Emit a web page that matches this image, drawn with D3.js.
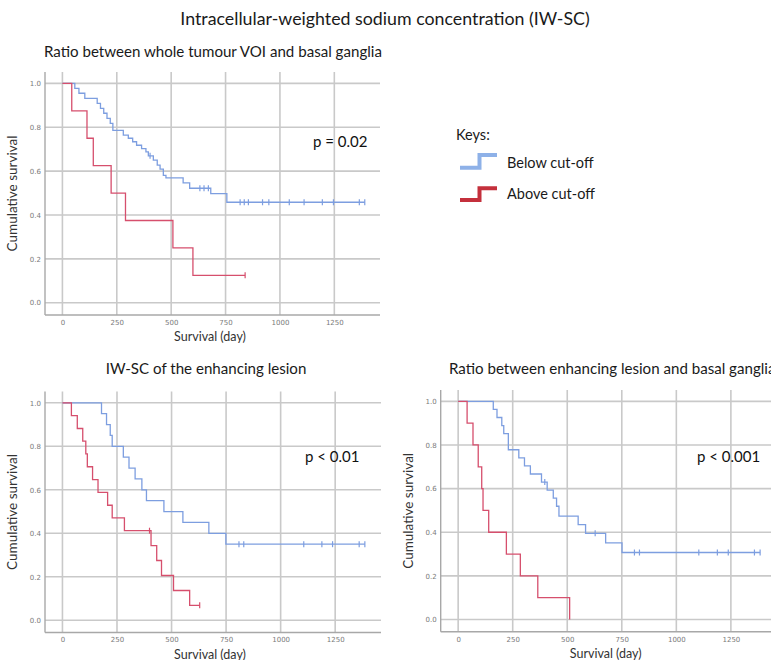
<!DOCTYPE html>
<html>
<head>
<meta charset="utf-8">
<script src="https://cdn.jsdelivr.net/npm/d3@7"></script>
<style>
  body { margin: 0; background: #fff; }
  svg { display: block; }
</style>
</head>
<body>
<svg id="chart" width="771" height="660"></svg>
<script>
// Axis ticks shared by all three Kaplan–Meier panels
const xTicks = [0, 250, 500, 750, 1000, 1250];
const yTicks = [0.0, 0.2, 0.4, 0.6, 0.8, 1.0];

// Panel A: ratio between whole tumour VOI and basal ganglia
const aBelowDays   = [57, 76, 103, 160, 175, 190, 205, 220, 232, 280, 303, 323, 341, 364, 384, 395, 418, 436, 449, 464, 476, 555, 585, 682, 756];
const aBelowSurv   = [0.977, 0.955, 0.932, 0.909, 0.886, 0.864, 0.841, 0.818, 0.786, 0.764, 0.750, 0.734, 0.718, 0.703, 0.688, 0.670, 0.650, 0.627, 0.609, 0.581, 0.569, 0.546, 0.522, 0.497, 0.458];
const aBelowCensor = [403, 632, 651, 671, 817, 836, 855, 920, 949, 1043, 1111, 1195, 1246, 1365, 1390];
const aAboveDays   = [43, 113, 142, 224, 290, 508, 600];
const aAboveSurv   = [0.875, 0.750, 0.625, 0.500, 0.375, 0.250, 0.125];
const aAboveCensor = [840];

// Panel B: IW-SC of the enhancing lesion
const bBelowDays   = [179, 202, 219, 228, 279, 305, 333, 364, 385, 465, 552, 671, 749];
const bBelowSurv   = [0.95, 0.90, 0.85, 0.80, 0.75, 0.70, 0.65, 0.60, 0.55, 0.50, 0.45, 0.40, 0.35];
const bBelowCensor = [809, 831, 1106, 1189, 1238, 1360, 1386];
const bAboveDays   = [41, 68, 93, 107, 114, 138, 163, 207, 228, 284, 406, 432, 454, 509, 583];
const bAboveSurv   = [0.941, 0.882, 0.824, 0.765, 0.706, 0.647, 0.588, 0.529, 0.471, 0.412, 0.343, 0.275, 0.206, 0.137, 0.069];
const bAboveCensor = [399, 629];

// Panel C: ratio between enhancing lesion and basal ganglia
const cBelowDays   = [161, 178, 200, 209, 230, 278, 304, 331, 382, 408, 436, 451, 462, 550, 584, 676, 751];
const cBelowSurv   = [0.963, 0.926, 0.889, 0.852, 0.778, 0.741, 0.704, 0.667, 0.630, 0.593, 0.556, 0.519, 0.474, 0.435, 0.395, 0.351, 0.307];
const cBelowCensor = [397, 628, 808, 831, 1103, 1188, 1238, 1358, 1384];
const cAboveDays   = [41, 68, 92, 108, 114, 140, 221, 285, 365, 511];
const cAboveSurv   = [0.9, 0.8, 0.7, 0.6, 0.5, 0.4, 0.3, 0.2, 0.1, 0.0];
const cAboveCensor = [];

const groupNames = ["Below cut-off", "Above cut-off"];
const curveColor = { below: "#7d9ee0", above: "#d64f6d" };
const keyColor   = { below: "#8eb1e8", above: "#c4303c" };

const panels = [
  { title: "Ratio between whole tumour VOI and basal ganglia", p: "p = 0.02",
    left: 45, top: 72, w: 335, h: 243, titleX: 44, titleAnchor: "start", titleY: 57, pX: 313, pY: 147,
    below: [aBelowDays, aBelowSurv, aBelowCensor], above: [aAboveDays, aAboveSurv, aAboveCensor] },
  { title: "IW-SC of the enhancing lesion", p: "p < 0.01",
    left: 45, top: 391.5, w: 336, h: 241, titleX: 206, titleAnchor: "middle", titleY: 374, pX: 305, pY: 462,
    below: [bBelowDays, bBelowSurv, bBelowCensor], above: [bAboveDays, bAboveSurv, bAboveCensor] },
  { title: "Ratio between enhancing lesion and basal ganglia", p: "p < 0.001",
    left: 440.7, top: 390, w: 336, h: 241.7, titleX: 449, titleAnchor: "start", titleY: 374, pX: 697, pY: 462,
    below: [cBelowDays, cBelowSurv, cBelowCensor], above: [cAboveDays, cAboveSurv, cAboveCensor] }
];

const svg = d3.select("#chart");
const textFont = "Lato, 'Open Sans', sans-serif";

svg.append("text")
  .attr("x", 385).attr("y", 25)
  .attr("text-anchor", "middle")
  .attr("font-family", textFont).attr("font-size", 17.8)
  .attr("fill", "#1a1a1a")
  .text("Intracellular-weighted sodium concentration (IW-SC)");

// Kaplan–Meier step survival at time t
function survAt(days, surv, t) {
  let s = 1;
  for (let i = 0; i < days.length; i++) if (days[i] <= t) s = surv[i];
  return s;
}

panels.forEach(pn => {
  const g = svg.append("g");
  const x = d3.scaleLinear().domain([-80, 1460]).range([pn.left, pn.left + pn.w]);
  const y = d3.scaleLinear().domain([-0.056, 1.052]).range([pn.top + pn.h, pn.top]);

  // gridlines
  g.append("g").selectAll("line").data(yTicks).join("line")
    .attr("x1", pn.left).attr("x2", pn.left + pn.w)
    .attr("y1", d => y(d)).attr("y2", d => y(d))
    .attr("stroke", "#c9c9c9").attr("stroke-width", 1.6);
  g.append("g").selectAll("line").data(xTicks).join("line")
    .attr("x1", d => x(d)).attr("x2", d => x(d))
    .attr("y1", pn.top).attr("y2", pn.top + pn.h)
    .attr("stroke", "#c9c9c9").attr("stroke-width", 1.6);

  // axes
  const xAxis = d3.axisBottom(x).tickValues(xTicks).tickSize(0).tickPadding(5).tickFormat(d3.format("d"));
  const yAxis = d3.axisLeft(y).tickValues(yTicks).tickSize(0).tickPadding(4).tickFormat(d3.format(".1f"));
  const gx = g.append("g").attr("transform", `translate(0,${pn.top + pn.h})`).call(xAxis);
  const gy = g.append("g").attr("transform", `translate(${pn.left},0)`).call(yAxis);
  [gx, gy].forEach(ax => {
    ax.select(".domain").attr("stroke", "#a8a8a8").attr("stroke-width", 1.4);
    ax.selectAll("text").attr("font-family", "'DejaVu Sans', sans-serif")
      .attr("font-size", 7).attr("fill", "#7a7a7a");
  });
  gy.select(".domain").attr("d", `M0,${pn.top}V${pn.top + pn.h}`);
  gx.select(".domain").attr("d", `M${pn.left},0H${pn.left + pn.w}`);

  // labels
  g.append("text")
    .attr("x", pn.titleX).attr("y", pn.titleY)
    .attr("text-anchor", pn.titleAnchor)
    .attr("font-family", textFont).attr("font-size", 15.1).attr("fill", "#1a1a1a")
    .text(pn.title);
  g.append("text")
    .attr("x", pn.left + 165).attr("y", pn.top + pn.h + 26)
    .attr("text-anchor", "middle")
    .attr("font-family", textFont).attr("font-size", 12.5).attr("fill", "#333")
    .text("Survival (day)");
  g.append("text")
    .attr("transform", `translate(${pn.left - 28},${pn.top + pn.h / 2}) rotate(-90)`)
    .attr("text-anchor", "middle")
    .attr("font-family", textFont).attr("font-size", 13.5).attr("fill", "#333")
    .text("Cumulative survival");
  g.append("text")
    .attr("x", pn.pX).attr("y", pn.pY)
    .attr("font-family", textFont).attr("font-size", 15).attr("fill", "#111")
    .text(pn.p);

  // survival curves
  const line = d3.line().x(d => x(d[0])).y(d => y(d[1])).curve(d3.curveStepAfter);
  [["below", pn.below], ["above", pn.above]].forEach(([key, [days, surv, cens]]) => {
    const end = Math.max(days[days.length - 1], cens.length ? d3.max(cens) : 0);
    const pts = [[0, 1]].concat(days.map((d, i) => [d, surv[i]]));
    pts.push([end, surv[surv.length - 1]]);
    g.append("path").attr("d", line(pts))
      .attr("fill", "none").attr("stroke", curveColor[key]).attr("stroke-width", 1.3);
    g.append("g").selectAll("line").data(cens).join("line")
      .attr("x1", d => x(d)).attr("x2", d => x(d))
      .attr("y1", d => y(survAt(days, surv, d)) - 3)
      .attr("y2", d => y(survAt(days, surv, d)) + 3)
      .attr("stroke", curveColor[key]).attr("stroke-width", 1.2);
  });
});

// key
const key = svg.append("g");
key.append("text").attr("x", 456).attr("y", 140)
  .attr("font-family", textFont).attr("font-size", 14.5).attr("fill", "#1a1a1a").text("Keys:");
[["below", 167.7, 155, 167.5], ["above", 200, 188.3, 198.5]].forEach(([k, yLow, yHigh, ty], i) => {
  key.append("path")
    .attr("d", `M460,${yLow}H479.5V${yHigh}H497`)
    .attr("fill", "none").attr("stroke", keyColor[k]).attr("stroke-width", 4);
  key.append("text").attr("x", 507).attr("y", ty)
    .attr("font-family", textFont).attr("font-size", 14.5).attr("fill", "#1a1a1a")
    .text(groupNames[i]);
});
</script>
</body>
</html>
